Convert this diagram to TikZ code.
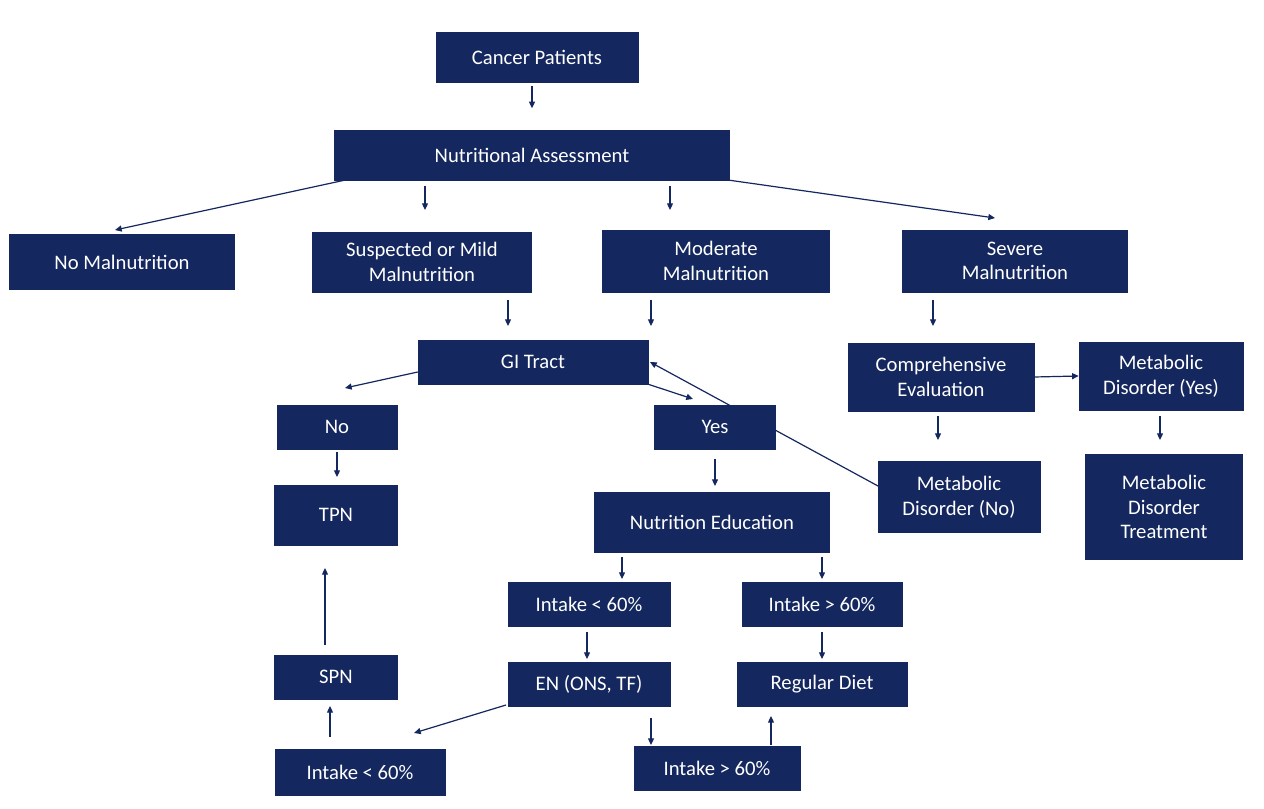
\documentclass[tikz,border=0pt]{standalone}
\usepackage{fontspec}
\setmainfont{Carlito}
\usetikzlibrary{arrows.meta,calc}
\definecolor{navy}{HTML}{14275E}
\begin{document}
\begin{tikzpicture}[x=0.75pt,y=-0.75pt,
  box/.style={fill=navy,draw=navy,text=white,inner sep=0pt,align=center,font=\fontsize{15.5}{18.5}\selectfont},
  arr/.style={draw=navy,line width=0.9pt,-{Triangle[length=5pt,width=4.5pt]}},
  ln/.style={draw=navy,line width=0.9pt}]
\useasboundingbox (0,0) rectangle (1264,809);
\fill[white] (0,0) rectangle (1264,809);
% long line behind boxes
\coordinate (mdnoTL) at (878,486);
\coordinate (giR) at (650,362);
\draw[arr] (mdnoTL) -- (giR);
\node[box,minimum width=202*0.75pt,minimum height=50*0.75pt] (cp) at (537,57) {Cancer Patients};
\node[box,minimum width=395*0.75pt,minimum height=50*0.75pt] (na) at (532,155) {Nutritional Assessment};
\node[box,minimum width=225*0.75pt,minimum height=55*0.75pt] (nomal) at (122,262) {No Malnutrition};
\node[box,minimum width=219*0.75pt,minimum height=60*0.75pt] (mild) at (422,262) {Suspected or Mild\\Malnutrition};
\node[box,minimum width=227*0.75pt,minimum height=62*0.75pt] (mod) at (716,261) {Moderate\\Malnutrition};
\node[box,minimum width=225*0.75pt,minimum height=62*0.75pt] (sev) at (1015,261) {Severe\\Malnutrition};
\node[box,minimum width=230*0.75pt,minimum height=44*0.75pt] (gi) at (533,362) {GI Tract};
\node[box,minimum width=120*0.75pt,minimum height=44*0.75pt] (no) at (337,427) {No};
\node[box,minimum width=121*0.75pt,minimum height=44*0.75pt] (yes) at (715,427) {Yes};
\node[box,minimum width=123*0.75pt,minimum height=60*0.75pt] (tpn) at (336,515) {TPN};
\node[box,minimum width=186*0.75pt,minimum height=68*0.75pt] (ce) at (941,377) {Comprehensive\\Evaluation};
\node[box,minimum width=164*0.75pt,minimum height=68*0.75pt] (mdy) at (1161,376) {Metabolic\\Disorder (Yes)};
\node[box,minimum width=162*0.75pt,minimum height=71*0.75pt] (mdn) at (959,497) {Metabolic\\Disorder (No)};
\node[box,minimum width=157*0.75pt,minimum height=105*0.75pt] (mdt) at (1164,507) {Metabolic\\Disorder\\Treatment};
\node[box,minimum width=235*0.75pt,minimum height=60*0.75pt] (ne) at (712,522) {Nutrition Education};
\node[box,minimum width=162*0.75pt,minimum height=44*0.75pt] (ilo) at (589,604) {Intake < 60\%};
\node[box,minimum width=160*0.75pt,minimum height=44*0.75pt] (ihi) at (822,604) {Intake > 60\%};
\node[box,minimum width=162*0.75pt,minimum height=44*0.75pt] (en) at (589,684) {EN (ONS, TF)};
\node[box,minimum width=170*0.75pt,minimum height=44*0.75pt] (rd) at (822,684) {Regular Diet};
\node[box,minimum width=123*0.75pt,minimum height=44*0.75pt] (spn) at (336,677) {SPN};
\node[box,minimum width=170*0.75pt,minimum height=46*0.75pt] (ilo2) at (360,772) {Intake < 60\%};
\node[box,minimum width=166*0.75pt,minimum height=44*0.75pt] (ihi2) at (717,768) {Intake > 60\%};
% connectors
\draw[arr] ($(cp.south)+(-5,4)$) -- ++(0,22);
\draw[arr] ($(na.south west)+(10,0)$) -- (115,230);
\draw[arr] (425,186) -- (425,210);
\draw[arr] (670,186) -- (670,210);
\draw[arr] (na.south east) -- (995,218);
\draw[arr] (508,300) -- (508,326);
\draw[arr] (651,300) -- (651,326);
\draw[arr] (933,300) -- (933,326);
\draw[arr] ($(gi.west)+(0,10)$) -- (345,388);
\draw[arr] (gi.south east) -- (693,399);
\draw[arr] (337,452) -- (337,477);
\draw[arr] (715,459) -- (715,486);
\draw[arr] (ce.east) -- (mdy.west);
\draw[arr] (938,416) -- (938,440);
\draw[arr] (1160,416) -- (1160,440);
\draw[arr] (622,557) -- (622,579);
\draw[arr] (822,557) -- (822,579);
\draw[arr] (587,632) -- (587,659);
\draw[arr] (822,632) -- (822,659);
\draw[arr] (506,705) -- (414,733);
\draw[arr] (651,718) -- (651,745);
\draw[arr] (771,745) -- (771,716);
\draw[arr] (330,737) -- (330,706);
\draw[arr] (325,645) -- (325,568);
\end{tikzpicture}
\end{document}
